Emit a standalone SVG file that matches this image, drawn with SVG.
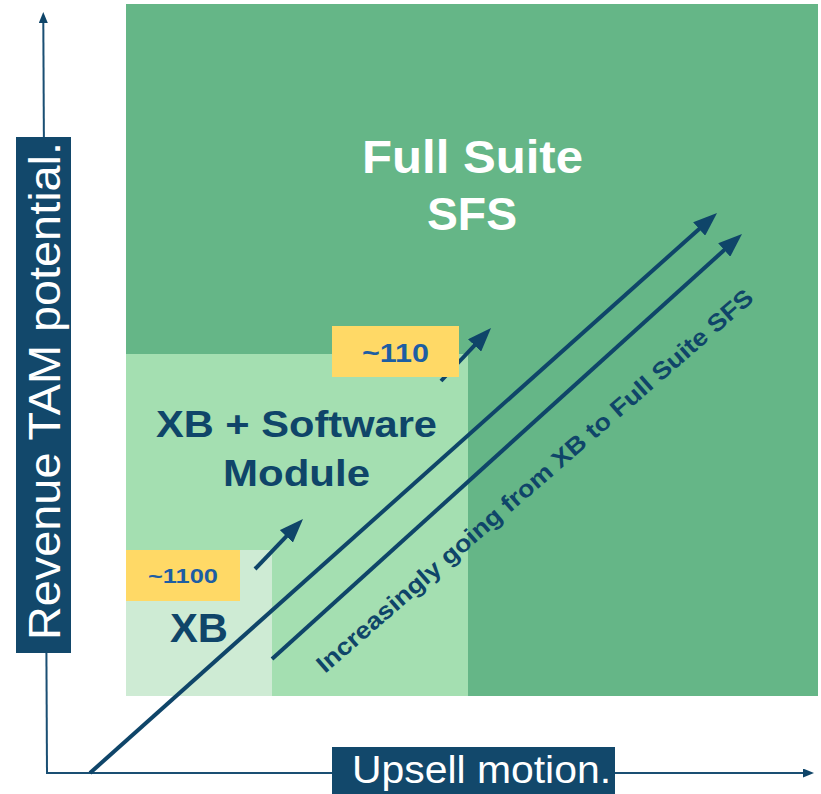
<svg xmlns="http://www.w3.org/2000/svg" width="821" height="794" viewBox="0 0 821 794">
  <defs>
    <marker id="head" viewBox="0 0 24 18" markerWidth="24" markerHeight="18" refX="12" refY="9" orient="auto" markerUnits="userSpaceOnUse">
      <path d="M0,0 L24,9 L0,18 z" fill="#0F4569"/>
    </marker>
    <marker id="axisHead" viewBox="0 0 11 9" markerWidth="11" markerHeight="9" refX="3" refY="4.5" orient="auto" markerUnits="userSpaceOnUse">
      <path d="M0,0 L11,4.5 L0,9 z" fill="#0F4569"/>
    </marker>
    <style>
      .bold { font-family: "Liberation Sans", Arial, sans-serif; font-weight: bold; text-anchor: middle; }
      .title { fill: #FFFFFF; font-size: 46px; }
      .dark { fill: #0F4569; }
      .num { fill: #1D5EA3; }
      .axisText { font-family: "Liberation Sans", Arial, sans-serif; fill: #FFFFFF; }
      .axisLine { stroke: #1A4F73; stroke-width: 2; fill: none; }
      .flow { stroke: #0F4569; stroke-width: 4; fill: none; marker-end: url(#head); }
      .badge { fill: #FFD966; }
      .tag { fill: #12486B; }
    </style>
  </defs>

  <!-- Market tiers, nested from largest to smallest -->
  <g id="full-suite">
    <rect x="126" y="4" width="692" height="692" fill="#65B687"/>
    <text class="bold title" x="472.5" y="173" textLength="221" lengthAdjust="spacingAndGlyphs">Full Suite</text>
    <text class="bold title" x="472" y="230" textLength="90" lengthAdjust="spacingAndGlyphs">SFS</text>
  </g>

  <g id="xb-software">
    <rect x="126" y="354" width="342" height="342" fill="#A4DFB1"/>
    <text class="bold dark" x="296.5" y="437" font-size="36" textLength="281" lengthAdjust="spacingAndGlyphs">XB + Software</text>
    <text class="bold dark" x="296.5" y="486" font-size="36" textLength="147" lengthAdjust="spacingAndGlyphs">Module</text>
  </g>

  <g id="xb">
    <rect x="126" y="550" width="146" height="146" fill="#CEEBD4"/>
    <text class="bold dark" x="199" y="642" font-size="41" textLength="58" lengthAdjust="spacingAndGlyphs">XB</text>
  </g>

  <!-- Axes -->
  <g id="axes">
    <line class="axisLine" x1="47" y1="773" x2="43.3" y2="20" marker-end="url(#axisHead)"/>
    <line class="axisLine" x1="46" y1="773" x2="806" y2="773" marker-end="url(#axisHead)"/>
  </g>

  <!-- Upsell arrows -->
  <g id="connectors">
    <line class="flow" x1="90" y1="773" x2="708.1" y2="221"/>
    <line class="flow" x1="272" y1="659" x2="733.1" y2="242"/>
    <line class="flow" stroke-width="4.5" x1="255" y1="569" x2="294.7" y2="527.7"/>
    <line class="flow" stroke-width="4.5" x1="441" y1="381" x2="482.8" y2="336.7"/>
  </g>

  <g id="trend-label">
    <text class="bold dark" transform="translate(540,487) rotate(-41)" x="0" y="0" font-size="24" textLength="570" lengthAdjust="spacingAndGlyphs">Increasingly going from XB to Full Suite SFS</text>
  </g>

  <!-- Customer counts -->
  <g id="count-110">
    <rect class="badge" x="332" y="326" width="127" height="51"/>
    <text class="bold num" x="395.5" y="362" font-size="25" textLength="67" lengthAdjust="spacingAndGlyphs">~110</text>
  </g>

  <g id="count-1100">
    <rect class="badge" x="126" y="550" width="114" height="51"/>
    <text class="bold num" x="183" y="583" font-size="20" textLength="70" lengthAdjust="spacingAndGlyphs">~1100</text>
  </g>

  <!-- Axis labels -->
  <g id="y-label">
    <rect class="tag" x="16" y="137" width="55" height="516"/>
    <text class="axisText" transform="translate(60,640) rotate(-90)" x="0" y="0" font-size="45" textLength="498" lengthAdjust="spacingAndGlyphs">Revenue TAM potential.</text>
  </g>

  <g id="x-label">
    <rect class="tag" x="332" y="747" width="283" height="47"/>
    <text class="axisText" x="352" y="783" font-size="38" textLength="259" lengthAdjust="spacingAndGlyphs">Upsell motion.</text>
  </g>
</svg>
